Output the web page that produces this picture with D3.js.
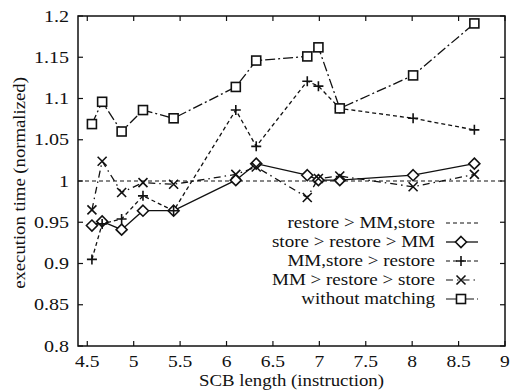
<!DOCTYPE html>
<html>
<head>
<meta charset="utf-8">
<script src="https://cdn.jsdelivr.net/npm/d3@7"></script>
<style>
  body { margin: 0; background: #fff; }
  svg text { font-family: "Liberation Serif", "DejaVu Serif", serif; fill: #111; }
</style>
</head>
<body>
<svg class="svg" width="511" height="390"></svg>
<script>
// SCB length values (same x for every series)
let scbLen = [4.55, 4.66, 4.87, 5.1, 5.43, 6.1, 6.32, 6.87, 6.99, 7.22, 8.01, 8.67];

let storeRestoreMM = [0.946, 0.951, 0.941, 0.964, 0.964, 1.001, 1.021, 1.007, 1.001, 1.001, 1.007, 1.021];
let mmStoreRestore = [0.905, 0.948, 0.954, 0.982, 0.964, 1.086, 1.042, 1.121, 1.115, 1.088, 1.076, 1.062];
let mmRestoreStore = [0.965, 1.024, 0.986, 0.998, 0.996, 1.008, 1.017, 0.980, 1.003, 1.006, 0.993, 1.008];
let withoutMatching = [1.069, 1.096, 1.060, 1.086, 1.076, 1.114, 1.146, 1.151, 1.162, 1.088, 1.128, 1.191];
let restoreMMStore = 1.0;   // flat reference line

let xTicks = [4.5, 5, 5.5, 6, 6.5, 7, 7.5, 8, 8.5, 9];
let yTicks = [0.8, 0.85, 0.9, 0.95, 1, 1.05, 1.1, 1.15, 1.2];

let legendNames = ['restore > MM,store', 'store > restore > MM', 'MM,store > restore', 'MM > restore > store', 'without matching'];

let padL = 78, padR = 505, padT = 16, padB = 346;

let svg = d3.select('.svg');
let x = d3.scaleLinear().domain([4.4, 9]).range([padL, padR]);
let y = d3.scaleLinear().domain([0.8, 1.2]).range([padB, padT]);

// text stretched a bit sideways, the scan's font is wide
function label(tx, ty, str, size, anchor, sx, rot) {
    let t = 'translate(' + tx + ',' + ty + ')' + (rot ? ' rotate(' + rot + ')' : '') + ' scale(' + sx + ',1)';
    return svg.append('text').attr('transform', t).attr('text-anchor', anchor)
        .style('font-size', size + 'px').text(str);
}

// ticks, all four sides pointing inward
let tickLen = 5;
let g = svg.append('g').attr('stroke', '#111').attr('stroke-width', 1.2);
for (let i = 0; i < xTicks.length; i++) {
    g.append('line').attr('x1', x(xTicks[i])).attr('x2', x(xTicks[i])).attr('y1', padB).attr('y2', padB - tickLen);
    g.append('line').attr('x1', x(xTicks[i])).attr('x2', x(xTicks[i])).attr('y1', padT).attr('y2', padT + tickLen);
    label(x(xTicks[i]), padB + 21, xTicks[i], 17, 'middle', 1.15);
}
for (let i = 0; i < yTicks.length; i++) {
    g.append('line').attr('x1', padL).attr('x2', padL + tickLen).attr('y1', y(yTicks[i])).attr('y2', y(yTicks[i]));
    g.append('line').attr('x1', padR).attr('x2', padR - tickLen).attr('y1', y(yTicks[i])).attr('y2', y(yTicks[i]));
    label(padL - 9, y(yTicks[i]) + 5.5, yTicks[i], 17, 'end', 1.18);
}

label((padL + padR) / 2, 386, 'SCB length (instruction)', 16.5, 'middle', 1.14);
label(25, (padT + padB) / 2 + 2, 'execution time (normalized)', 17, 'middle', 1.1, -90);

// marker shapes
function marker(sel, type, cx, cy) {
    let m = sel.append('g').attr('transform', 'translate(' + cx + ',' + cy + ')')
        .attr('stroke', '#111').attr('stroke-width', 1.6).attr('fill', 'none');
    if (type === 'diamond') {
        m.append('path').attr('d', 'M0,-5.5L5.5,0L0,5.5L-5.5,0Z').attr('fill', '#fff');
    } else if (type === 'plus') {
        m.append('path').attr('d', 'M-5,0H5M0,-5V5');
    } else if (type === 'cross') {
        m.append('path').attr('d', 'M-4.5,-4.5L4.5,4.5M-4.5,4.5L4.5,-4.5');
    } else if (type === 'square') {
        m.append('rect').attr('x', -4.5).attr('y', -4.5).attr('width', 9).attr('height', 9).attr('fill', '#fff');
    }
}

let series = [
    {vals: null, type: null, dash: '4,3'},
    {vals: storeRestoreMM, type: 'diamond', dash: null},
    {vals: mmStoreRestore, type: 'plus', dash: '4,3'},
    {vals: mmRestoreStore, type: 'cross', dash: '7,4,1.5,4'},
    {vals: withoutMatching, type: 'square', dash: '10,3,2,3'}
];

let line = d3.line().x(d => x(d[0])).y(d => y(d[1]));

// flat line at 1
svg.append('path').datum([[4.4, restoreMMStore], [9, restoreMMStore]])
    .attr('d', line).attr('fill', 'none').attr('stroke', '#111').attr('stroke-width', 1.1)
    .attr('stroke-dasharray', series[0].dash);

for (let s = 1; s < series.length; s++) {
    let pts = scbLen.map((v, i) => [v, series[s].vals[i]]);
    svg.append('path').datum(pts).attr('d', line).attr('fill', 'none')
        .attr('stroke', '#111').attr('stroke-width', 1.3)
        .attr('stroke-dasharray', series[s].dash);
}
for (let s = 1; s < series.length; s++) {
    for (let i = 0; i < scbLen.length; i++) {
        marker(svg, series[s].type, x(scbLen[i]), y(series[s].vals[i]));
    }
}

// legend
let legY0 = 223, legStep = 19;
for (let i = 0; i < legendNames.length; i++) {
    let ly = legY0 + i * legStep;
    label(435, ly + 5, legendNames[i], 17, 'end', 1.12);
    svg.append('line').attr('x1', 446).attr('x2', 478).attr('y1', ly).attr('y2', ly)
        .attr('stroke', '#111').attr('stroke-width', series[i].dash ? 1.1 : 1.3)
        .attr('stroke-dasharray', series[i].dash);
    if (series[i].type) marker(svg, series[i].type, 461, ly);
}

// frame
svg.append('rect').attr('x', padL).attr('y', padT).attr('width', padR - padL).attr('height', padB - padT)
    .attr('fill', 'none').attr('stroke', '#111').attr('stroke-width', 1.5);
</script>
</body>
</html>
